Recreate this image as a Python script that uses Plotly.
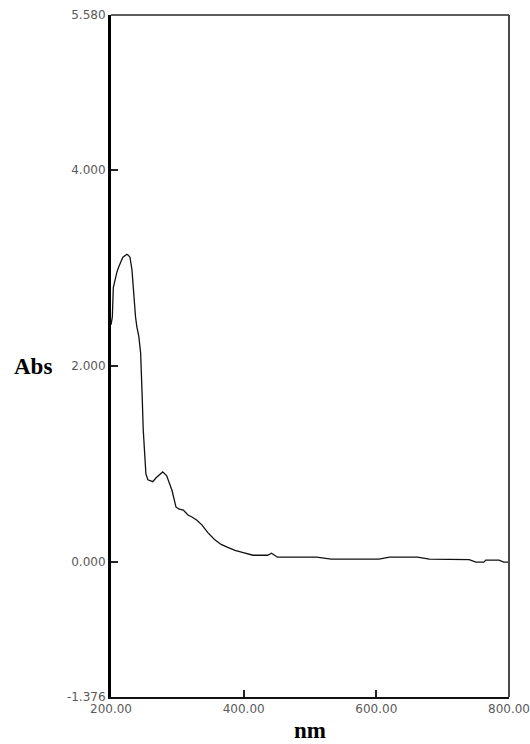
import plotly.graph_objects as go

# UV-Vis absorption spectrum
wavelength_nm = [200, 202, 203.5, 206, 208.6, 211, 213.5, 216, 218, 221, 224, 226, 228.6,
                 231.6, 234.6, 237, 239, 242, 244.7, 246, 247, 248.6, 250.5, 252.6, 255.6,
                 259, 263, 268, 273, 278, 284, 288, 292, 298, 303, 309, 316, 322, 329, 337,
                 346, 356, 366, 376, 387, 398, 414, 425, 436, 442, 447, 451, 480, 510, 532,
                 560, 604, 620, 662, 680, 740, 750, 762, 765, 785, 792, 800]
absorbance = [2.42, 2.50, 2.80, 2.88, 2.95, 3.00, 3.05, 3.08, 3.11, 3.13, 3.14, 3.13, 3.11,
              2.98, 2.67, 2.50, 2.40, 2.30, 2.13, 1.96, 1.69, 1.35, 1.10, 0.90, 0.84,
              0.83, 0.82, 0.86, 0.89, 0.92, 0.88, 0.80, 0.73, 0.56, 0.54, 0.53, 0.48, 0.46,
              0.43, 0.38, 0.30, 0.23, 0.18, 0.15, 0.12, 0.10, 0.07, 0.07, 0.07, 0.09, 0.07,
              0.05, 0.05, 0.05, 0.03, 0.03, 0.03, 0.05, 0.05, 0.03, 0.025, 0.0, 0.0, 0.02,
              0.02, 0.0, 0.0]

x_ticks = [200, 400, 600, 800]
x_tick_labels = ["200.00", "400.00", "600.00", "800.00"]
y_ticks = [-1.376, 0, 2, 4, 5.58]
y_tick_labels = ["-1.376", "0.000", "2.000", "4.000", "5.580"]

tick_font = dict(family="DejaVu Sans", size=12, color="#5a5a5a")
label_font = dict(family="Liberation Serif", size=23, color="black", weight="bold")

fig = go.Figure()
fig.add_trace(go.Scatter(
    x=wavelength_nm, y=absorbance, mode="lines",
    line=dict(color="#111111", width=1.3), showlegend=False,
))

fig.update_xaxes(
    range=[200, 800], tickmode="array", tickvals=x_ticks, ticktext=x_tick_labels,
    ticks="inside", ticklen=7, tickwidth=1.5, tickcolor="#222222",
    showgrid=False, zeroline=False, automargin=False,
    showline=True, linecolor="#111111", linewidth=2,
    tickfont=tick_font,
)
fig.update_yaxes(
    range=[-1.376, 5.58], tickmode="array", tickvals=y_ticks, ticktext=y_tick_labels,
    ticks="inside", ticklen=7, tickwidth=1.5, tickcolor="#222222",
    showgrid=False, zeroline=False, automargin=False,
    showline=True, linecolor="black", linewidth=3,
    tickfont=tick_font,
)

# top and right frame edges in grey
fig.add_shape(type="line", xref="paper", yref="paper", x0=0, x1=1, y0=1, y1=1,
              line=dict(color="#5e5e5e", width=2))
fig.add_shape(type="line", xref="paper", yref="paper", x0=1, x1=1, y0=0, y1=1,
              line=dict(color="#4a4a4a", width=2))

fig.add_annotation(text="Abs", xref="paper", yref="paper", x=-0.249, y=(2 + 1.376) / (5.58 + 1.376),
                   xanchor="left", yanchor="middle", showarrow=False, font=label_font)
fig.add_annotation(text="nm", xref="paper", yref="paper", x=0.5, y=0, yshift=-33,
                   xanchor="center", yanchor="middle", showarrow=False, font=label_font)

fig.update_layout(
    width=530, height=744,
    margin=dict(l=111, r=21, t=15, b=47),
    paper_bgcolor="white", plot_bgcolor="white",
)

fig.write_html("out.html")
